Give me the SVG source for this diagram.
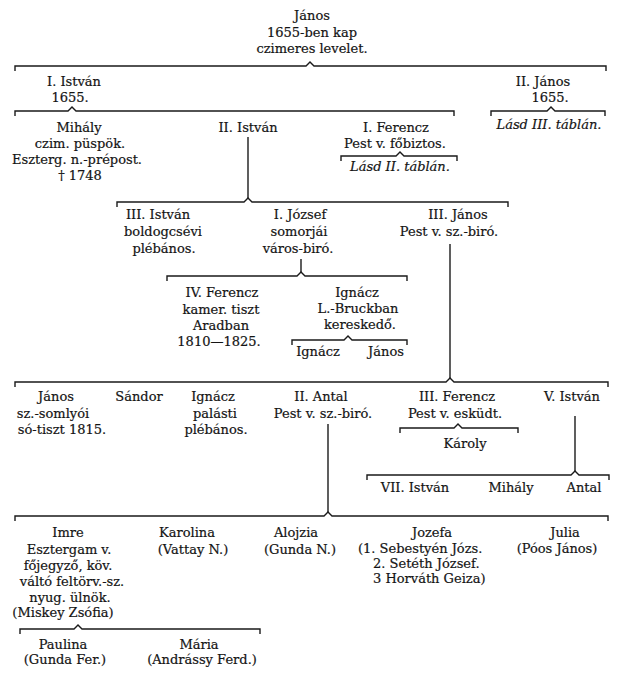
<svg xmlns="http://www.w3.org/2000/svg" width="630" height="678" viewBox="0 0 630 678">
<style>
text{font-family:"DejaVu Serif","Liberation Serif",serif;font-size:13px;fill:#141414;stroke:#141414;stroke-width:0.2;text-anchor:middle}
.it{font-style:italic}
.st{text-anchor:start}
.c{fill:none;stroke:#1a1a1a;stroke-width:1.4;stroke-linejoin:miter}
</style>
<rect width="630" height="678" fill="#ffffff"/>
<g id="connectors" class="c">
<path d="M15,71 V66 H306 L310,62 L314,66 H606 V71"/>
<path d="M15,116 V111 H68 L72,107 L76,111 H454 V116"/>
<path d="M491,116 V111 H547 L551,107 L555,111 H605 V116"/>
<path d="M341,161 V156 H396 L400,152 L404,156 H457 V161"/>
<path d="M248,137 V198"/>
<path d="M117,207 V202 H244 L248,198 L252,202 H508 V207"/>
<path d="M301,259 V272"/>
<path d="M167,281 V276 H297 L301,272 L305,276 H407 V281"/>
<path d="M292,345 V340 H344 L348,336 L352,340 H407 V345"/>
<path d="M450,244 V378"/>
<path d="M15,387 V382 H446 L450,378 L454,382 H608 V387"/>
<path d="M400,433 V428 H454 L458,424 L462,428 H518 V433"/>
<path d="M328,424 V512"/>
<path d="M575,416 V471"/>
<path d="M367,480 V475 H571 L575,471 L579,475 H609 V480"/>
<path d="M15,521 V516 H324 L328,512 L332,516 H608 V521"/>
<path d="M20,634 V629 H74 L78,625 L82,629 H260 V634"/>
</g>
<g id="janos-root"><text x="312" y="20">János</text><text x="312" y="37">1655-ben kap</text><text x="312" y="53">czimeres levelet.</text></g>
<g id="istvan-1"><text x="74" y="86">I. István</text><text x="70" y="102">1655.</text></g>
<g id="janos-2"><text x="543" y="86">II. János</text><text x="550" y="102">1655.</text></g>
<g id="janos-2-ref"><text class="it" x="549" y="129">Lásd III. táblán.</text></g>
<g id="mihaly"><text x="79" y="132">Mihály</text><text x="80" y="148">czim. püspök.</text><text x="77" y="164">Eszterg. n.-prépost.</text><text x="80" y="180">† 1748</text></g>
<g id="istvan-2"><text x="248" y="132">II. István</text></g>
<g id="ferencz-1"><text x="396" y="132">I. Ferencz</text><text x="395" y="148">Pest v. főbiztos.</text></g>
<g id="ferencz-1-ref"><text class="it" x="400" y="171">Lásd II. táblán.</text></g>
<g id="istvan-3"><text x="158" y="219">III. István</text><text x="163" y="236">boldogcsévi</text><text x="164" y="253">plébános.</text></g>
<g id="jozsef-1"><text x="300" y="219">I. József</text><text x="299" y="236">somorjái</text><text x="298" y="253">város-biró.</text></g>
<g id="janos-3"><text x="458" y="219">III. János</text><text x="449" y="236">Pest v. sz.-biró.</text></g>
<g id="ferencz-4"><text x="222" y="297">IV. Ferencz</text><text x="221" y="314">kamer. tiszt</text><text x="221" y="330">Aradban</text><text x="219" y="346">1810—1825.</text></g>
<g id="ignacz-a"><text x="357" y="297">Ignácz</text><text x="358" y="313">L.-Bruckban</text><text x="360" y="329">kereskedő.</text></g>
<g id="ignacz-b"><text x="318" y="356">Ignácz</text></g>
<g id="janos-b"><text x="386" y="356">János</text></g>
<g id="janos-4"><text x="56" y="401">János</text><text x="53" y="418">sz.-somlyói</text><text x="62" y="434">só-tiszt 1815.</text></g>
<g id="sandor"><text x="139" y="401">Sándor</text></g>
<g id="ignacz-c"><text x="213" y="401">Ignácz</text><text x="215" y="418">palásti</text><text x="216" y="434">plébános.</text></g>
<g id="antal-2"><text x="321" y="401">II. Antal</text><text x="323" y="418">Pest v. sz.-biró.</text></g>
<g id="ferencz-3"><text x="457" y="401">III. Ferencz</text><text x="455" y="418">Pest v. esküdt.</text></g>
<g id="karoly"><text x="465" y="448">Károly</text></g>
<g id="istvan-5"><text x="572" y="401">V. István</text></g>
<g id="istvan-7"><text x="415" y="492">VII. István</text></g>
<g id="mihaly-b"><text x="511" y="492">Mihály</text></g>
<g id="antal-b"><text x="584" y="492">Antal</text></g>
<g id="imre"><text x="68" y="537">Imre</text><text x="69" y="554">Esztergam v.</text><text x="68" y="570">főjegyző, köv.</text><text x="72" y="586">váltó feltörv.-sz.</text><text x="70" y="602">nyug. ülnök.</text><text x="63" y="617">(Miskey Zsófia)</text></g>
<g id="karolina"><text x="187" y="537">Karolina</text><text x="193" y="554">(Vattay N.)</text></g>
<g id="alojzia"><text x="296" y="537">Alojzia</text><text x="300" y="554">(Gunda N.)</text></g>
<g id="jozefa"><text x="432" y="537">Jozefa</text><text class="st" x="358" y="553">(1. Sebestyén Józs.</text><text class="st" x="373" y="568">2. Setéth József.</text><text class="st" x="373" y="583">3 Horváth Geiza)</text></g>
<g id="julia"><text x="565" y="537">Julia</text><text x="557" y="553">(Póos János)</text></g>
<g id="paulina"><text x="63" y="649">Paulina</text><text x="65" y="664">(Gunda Fer.)</text></g>
<g id="maria"><text x="199" y="649">Mária</text><text x="202" y="664">(Andrássy Ferd.)</text></g>
</svg>
